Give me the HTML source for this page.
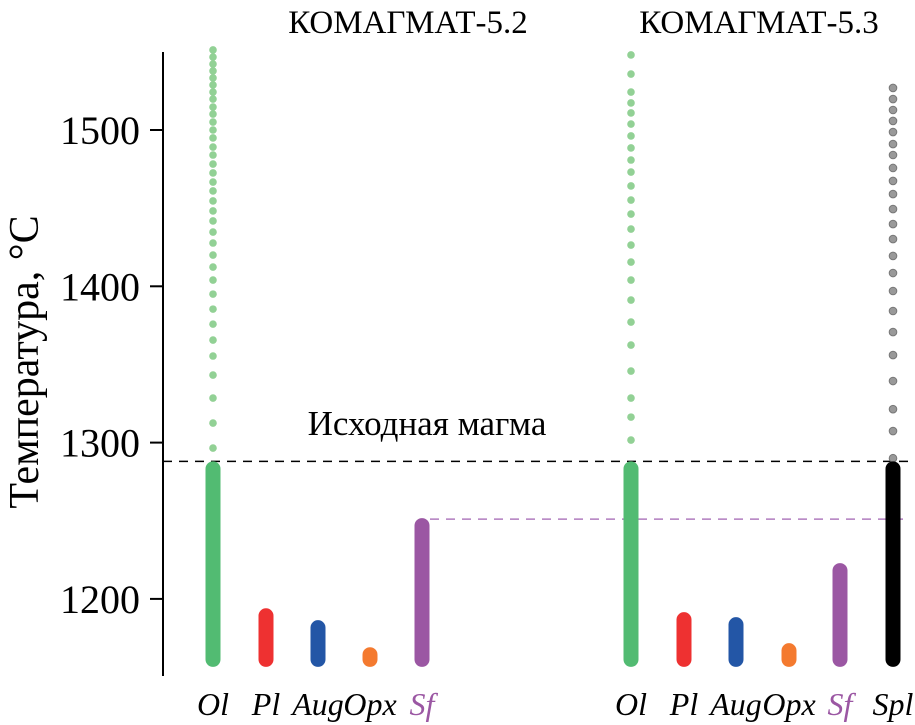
<!DOCTYPE html><html><head><meta charset="utf-8"><style>body{margin:0;background:#fff}svg{display:block}text{font-family:"Liberation Serif","Noto Serif CJK SC",serif}</style></head><body>
<svg id="c" width="915" height="725"></svg>
<script>
const minerals=["Ol","Pl","Aug","Opx","Sf","Ol","Pl","Aug","Opx","Sf","Spl"];
const barTop=[1288,1194,1186.4,1169.1,1251.7,1288,1191.5,1188.3,1171.7,1222.9,1288];
const barBottom=[1156.5,1156.5,1156.5,1156.5,1156.5,1156.5,1156.5,1156.5,1156.5,1156.5,1156.5];
const yTicks=[1200,1300,1400,1500];
const olDots52=[1551.2,1546.7,1542.2,1537.8,1533.3,1528.8,1524.3,1519.8,1514.7,1510.2,1505.1,1500,1494.9,1489.1,1484,1478.2,1472.5,1466.7,1461,1454.6,1448.2,1441.8,1434.7,1427.7,1420,1412.3,1404,1395,1385.4,1375.8,1365.6,1355.4,1343.2,1328.5,1312.5,1296.5];
const olDots53=[1548,1535.8,1524.3,1517.3,1510.9,1503.8,1496.2,1488.5,1480.8,1473.1,1464.2,1455.2,1446.2,1436.6,1426.4,1415.5,1404,1391.2,1377.1,1362.4,1345.8,1328.5,1316.3,1301.6];
const splDots=[1526.9,1519.8,1512.8,1505.8,1498.7,1491,1484,1475.7,1467.4,1459,1449.4,1439.8,1430.2,1419.4,1408.5,1397,1384.2,1370.7,1356,1339.4,1321.4,1307.4,1290];
const initialMagma=1288;
const sfLine=1251;
const colors=["#52bb72","#ee3131","#2356a6","#f47a2f","#9b57a3","#52bb72","#ee3131","#2356a6","#f47a2f","#9b57a3","#000"];
const xs=[213,266,318,370,422,631,684,736,789,840,893];
const y=t=>130+(1500-t)*1.563;
const svg=document.getElementById('c');const NS="http://www.w3.org/2000/svg";
function mk(tag,at,txt){const e=document.createElementNS(NS,tag);for(const k in at)e.setAttribute(k,at[k]);if(txt!=null)e.textContent=txt;svg.appendChild(e);return e;}
let e;
e=mk('line',{x1:163,y1:52,x2:163,y2:676,stroke:'#000','stroke-width':2});


yTicks.forEach(t=>{
 e=mk('line',{x1:150,x2:163,y1:y(t),y2:y(t),stroke:'#000','stroke-width':2});
 
 
 e=mk('text',{x:140,y:y(t)+14,'text-anchor':'end','font-size':40},t);
 
 
});
e=mk('text',{x:0,y:0,'font-size':42,'text-anchor':'middle',transform:'translate(38,362) rotate(-90)'},'Температура, °C');


[["КОМАГМАТ-5.2",408],["КОМАГМАТ-5.3",759]].forEach(a=>{
 e=mk('text',{x:a[1],y:33,'font-size':33,'text-anchor':'middle'},a[0]);
 
 
});
e=mk('line',{x1:163,x2:915,y1:y(initialMagma),y2:y(initialMagma),stroke:'#000','stroke-width':1.5,'stroke-dasharray':'9,7'});


e=mk('text',{x:427,y:435,'font-size':35,'text-anchor':'middle'},'Исходная магма');


e=mk('line',{x1:430,x2:905,y1:y(sfLine),y2:y(sfLine),stroke:'#b07cbf','stroke-width':1.5,'stroke-dasharray':'9,7'});


[[olDots52,213,'#92d195'],[olDots53,631,'#92d195'],[splDots,893,'#999']].forEach(d=>{
 d[0].forEach(t=>{
  e=mk('circle',{cx:d[1],cy:y(t),r:3.8,fill:d[2],stroke:d[2]=='#999'?'#777':'none','stroke-width':1});
  
  
 });
});
minerals.forEach((m,i)=>{
 const t=y(barTop[i]),b=y(barBottom[i]);
 e=mk('rect',{x:xs[i]-7.5,y:t,width:15,height:b-t,rx:7.5,fill:colors[i]});
 
 
 e=mk('text',{x:xs[i],y:715,'font-size':32,'font-style':'italic','text-anchor':'middle',fill:m=='Sf'?'#9b57a3':'#000'},m);
 
 
});
</script></body></html>
